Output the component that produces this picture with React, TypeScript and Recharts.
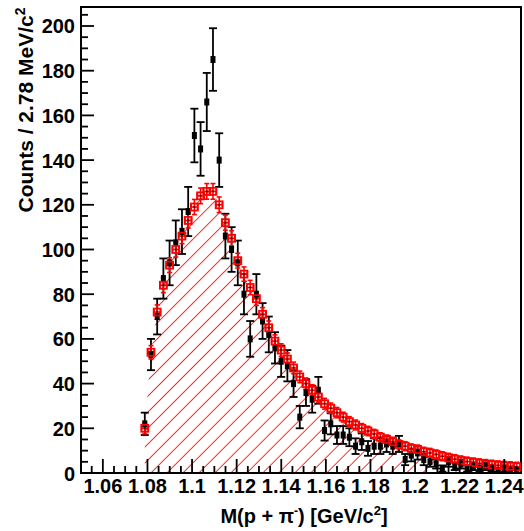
import React from 'react';
import { ComposedChart, Area, Scatter, ErrorBar, XAxis, YAxis, ReferenceArea } from 'recharts';

// Histogram binning (2.78 MeV/c^2 bins)
const BIN_START = 1.0788;
const BIN_WIDTH = 0.00278;

const X_MIN = 1.0502;
const X_MAX = 1.2475;
const Y_MAX = 208.5;

// red (fit / MC) histogram values
const redValues = [20, 54, 72, 84, 93, 100, 106, 113, 119, 124, 126, 126, 120, 112, 105, 95, 89, 83, 78, 71, 65, 59, 55, 51, 47, 43, 40, 37, 34, 31, 29, 27, 25, 23, 21.5, 20, 18.8, 17.5, 16, 15, 14, 12.8, 12, 11, 10.5, 9.5, 9, 8.3, 7.5, 6.8, 6.2, 5.6, 5.1, 4.7, 4.3, 4, 3.7, 3.4, 3.2, 3, 2.8];
const redErrors = [2.5, 3, 3.2, 3.3, 3.3, 3.4, 3.4, 3.4, 3.4, 3.5, 3.5, 3.5, 3.5, 3.4, 3.4, 3.3, 3.2, 3.2, 3, 3, 3, 2.8, 2.8, 2.7, 2.6, 2.6, 2.5, 2.5, 2.4, 2.4, 2.3, 2.3, 2.2, 2.2, 2.2, 2.1, 2.1, 2, 2, 2, 2, 2, 2, 2, 2, 2, 2, 2, 2, 2, 2, 2, 2, 2, 2, 2, 2, 2, 2, 2, 2];

// black (data) histogram values
const blackValues = [22, 53, 70, 87, 94, 103, 108, 117, 151, 145, 166, 185, 140, 106, 100, 94, 80, 60, 80, 68, 62, 56, 50, 48, 40, 25, 36, 33, 37, 19, 22, 17, 17, 16, 12, 14, 11, 12, 12, 13, 12, 13, 6, 8, 9, 6, 5, 4, 2, 5, 3, 4, 2, 3, 2, 3, 2, 1, 2, 1, 1];
const blackErrors = [5, 7, 8, 9, 10, 10, 10, 11, 12, 12, 13, 14, 12, 10, 10, 10, 9, 8, 9, 8, 8, 7, 7, 7, 6, 5, 6, 6, 6, 4.5, 4.7, 4, 4, 4, 3.5, 3.7, 3.3, 3.5, 3.5, 3.6, 3.5, 3.6, 2.5, 2.8, 3, 2.5, 2.2, 2, 1.4, 2.2, 1.7, 2, 1.4, 1.7, 1.4, 1.7, 1.4, 1, 1.4, 1, 1];

// axis ticks
const xMajorTicks = [1.06, 1.08, 1.1, 1.12, 1.14, 1.16, 1.18, 1.2, 1.22, 1.24];
const xMajorLabels = ['1.06', '1.08', '1.1', '1.12', '1.14', '1.16', '1.18', '1.2', '1.22', '1.24'];
const xMinorTicks = [1.055, 1.065, 1.07, 1.075, 1.085, 1.09, 1.095, 1.105, 1.11, 1.115, 1.125, 1.13, 1.135, 1.145, 1.15, 1.155, 1.165, 1.17, 1.175, 1.185, 1.19, 1.195, 1.205, 1.21, 1.215, 1.225, 1.23, 1.235, 1.245];
const yMajorTicks = [0, 20, 40, 60, 80, 100, 120, 140, 160, 180, 200];
const yMinorTicks = [5, 10, 15, 25, 30, 35, 45, 50, 55, 65, 70, 75, 85, 90, 95, 105, 110, 115, 125, 130, 135, 145, 150, 155, 165, 170, 175, 185, 190, 195, 205];

const data = redValues.map((r, i) => ({
  x: BIN_START + i * BIN_WIDTH,
  xErr: BIN_WIDTH / 2,
  red: r,
  redErr: redErrors[i],
  black: blackValues[i],
  blackErr: blackErrors[i],
}));

const FONT = '"Liberation Sans", Arial, Helvetica, sans-serif';

const XTick = (props: any) => {
  const { x, y, payload } = props;
  const v = payload.value;
  const idx = xMajorTicks.findIndex((t) => Math.abs(t - v) < 1e-6);
  const major = idx >= 0;
  return (
    <g>
      <line x1={x} x2={x} y1={y} y2={y - (major ? 14 : 7)} stroke="#000" strokeWidth={1.8} />
      {major && (
        <text x={x} y={y + 20} textAnchor="middle" fontFamily={FONT} fontWeight="bold" fontSize={20} fill="#000">
          {xMajorLabels[idx]}
        </text>
      )}
    </g>
  );
};

const YTick = (props: any) => {
  const { x, y, payload } = props;
  const v = payload.value;
  const major = yMajorTicks.includes(v);
  return (
    <g>
      <line x1={x} x2={x + (major ? 13 : 7)} y1={y} y2={y} stroke="#000" strokeWidth={1.8} />
      {major && (
        <text x={x - 6} y={y + 7.5} textAnchor="end" fontFamily={FONT} fontWeight="bold" fontSize={20} fill="#000">
          {String(v)}
        </text>
      )}
    </g>
  );
};

const BlackMarker = (props: any) => {
  const { cx, cy } = props;
  if (cx == null || cy == null) return <g />;
  return <rect x={cx - 2.5} y={cy - 3.5} width={5} height={7} fill="#000" />;
};

const RedMarker = (props: any) => {
  const { cx, cy } = props;
  if (cx == null || cy == null) return <g />;
  return (
    <g>
      <rect x={cx - 3.5} y={cy - 3.5} width={7} height={7} fill="none" stroke="#ff0000" strokeWidth={1.8} />
      <rect x={cx - 0.8} y={cy - 0.8} width={1.6} height={1.6} fill="#300" />
    </g>
  );
};

const YTitle = () => (
  <text transform="translate(33,110) rotate(-90)" textAnchor="middle" fontFamily={FONT} fontWeight="bold" fontSize={21} fill="#000">
    Counts / 2.78 MeV/c<tspan dy={-8} fontSize={14}>2</tspan>
  </text>
);

const XTitle = () => (
  <text x={304} y={523} textAnchor="middle" fontFamily={FONT} fontWeight="bold" fontSize={20} fill="#000">
    M(p + π<tspan dy={-8} fontSize={12}>-</tspan><tspan dy={8}>) [GeV/c</tspan><tspan dy={-8} fontSize={13}>2</tspan><tspan dy={8}>]</tspan>
  </text>
);

export default function App() {
  return (
    <div style={{ position: 'absolute', left: 0, top: 0, width: 524, height: 531, background: '#fff' }}>
      <ComposedChart width={524} height={531} data={data} margin={{ top: 7, right: 3, left: 0, bottom: 0 }}>
        <defs>
          <pattern id="hatch" patternUnits="userSpaceOnUse" width="11.3" height="11.3" patternTransform="rotate(45)">
            <line x1="0" y1="0" x2="0" y2="11.3" stroke="#ff0000" strokeWidth="1.6" />
          </pattern>
        </defs>
        <XAxis
          dataKey="x"
          type="number"
          domain={[X_MIN, X_MAX]}
          allowDataOverflow
          ticks={[...xMajorTicks, ...xMinorTicks].sort((a, b) => a - b)}
          interval={0}
          tickSize={0}
          tickMargin={0}
          tick={<XTick />}
          tickLine={false}
          axisLine={{ stroke: '#000', strokeWidth: 2 }}
          height={58}
          label={{ content: () => <XTitle /> }}
        />
        <YAxis
          type="number"
          domain={[0, Y_MAX]}
          allowDataOverflow
          ticks={[...yMajorTicks, ...yMinorTicks].sort((a, b) => a - b)}
          interval={0}
          tickSize={0}
          tickMargin={0}
          tick={<YTick />}
          tickLine={false}
          axisLine={{ stroke: '#000', strokeWidth: 2 }}
          width={81}
          label={{ content: () => <YTitle /> }}
        />
        <Area
          type="linear"
          dataKey="red"
          stroke="none"
          fill="url(#hatch)"
          fillOpacity={1}
          isAnimationActive={false}
          activeDot={false}
          dot={false}
        />
        <Scatter dataKey="black" shape={<BlackMarker />} isAnimationActive={false}>
          <ErrorBar dataKey="blackErr" direction="y" width={4} stroke="#000" strokeWidth={1.8} />
        </Scatter>
        <Scatter dataKey="red" shape={<RedMarker />} isAnimationActive={false}>
          <ErrorBar dataKey="redErr" direction="y" width={2.5} stroke="#ff0000" strokeWidth={1.6} />
          <ErrorBar dataKey="xErr" direction="x" width={2.5} stroke="#ff0000" strokeWidth={1.6} />
        </Scatter>
        <ReferenceArea x1={X_MIN} x2={X_MAX} y1={0} y2={Y_MAX} fill="none" stroke="#000" strokeWidth={2} ifOverflow="visible" />
      </ComposedChart>
    </div>
  );
}
